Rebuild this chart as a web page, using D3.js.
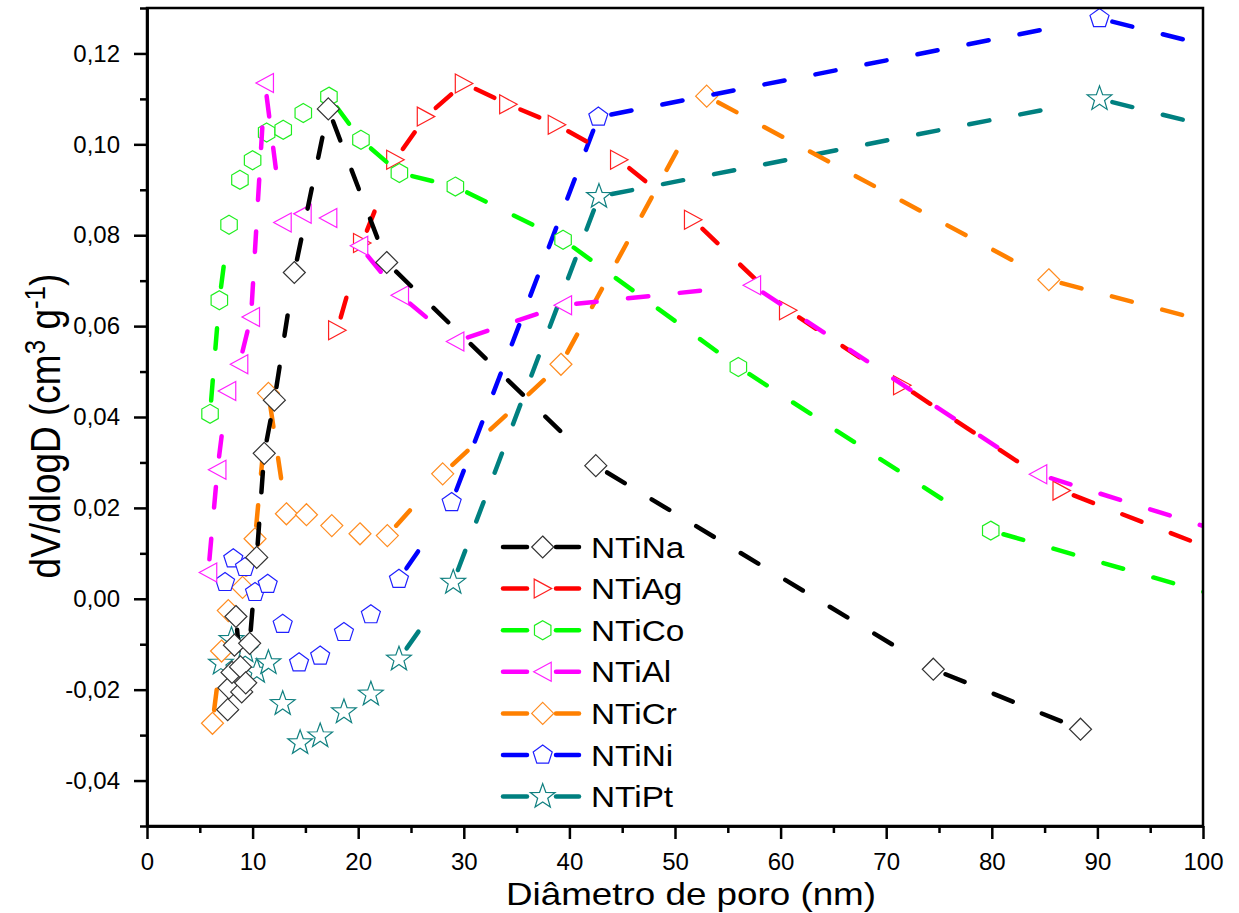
<!DOCTYPE html>
<html>
<head>
<meta charset="utf-8">
<script src="https://cdn.jsdelivr.net/npm/d3@7"></script>
<style>
  body { margin: 0; background: #fff; }
  text { font-family: Arial, "Liberation Sans", sans-serif; }
</style>
</head>
<body>
<div id="chart"></div>
<script>
// data (x = pore diameter nm, y = dV/dlogD)
var seriesNames = ["NTiNa", "NTiAg", "NTiCo", "NTiAl", "NTiCr", "NTiNi", "NTiPt"];

var naX = [7.64, 7.76, 8.05, 8.28, 8.42, 8.85, 8.97, 9.35, 9.72, 10.39, 11.10, 12.06, 13.95, 17.17, 22.70, 42.50, 74.46, 88.40];
var naY = [-0.0244, -0.0196, -0.0162, -0.0102, -0.0039, -0.0150, -0.0205, -0.0185, -0.0098, 0.0091, 0.0320, 0.0437, 0.0718, 0.1078, 0.0740, 0.0293, -0.0155, -0.0287];

var agX = [18.0, 20.36, 23.5, 26.4, 30.0, 34.2, 38.8, 44.7, 51.7, 60.7, 71.5, 86.6, 105];
var agY = [0.0591, 0.0783, 0.0966, 0.1061, 0.1134, 0.1088, 0.1043, 0.0966, 0.0834, 0.0635, 0.0470, 0.0238, 0.0072];

var coX = [5.97, 6.85, 7.77, 8.80, 10.00, 11.33, 12.90, 14.80, 17.23, 20.26, 23.90, 29.20, 39.40, 56.00, 79.90, 105];
var coY = [0.0407, 0.0657, 0.0823, 0.0922, 0.0965, 0.1026, 0.1032, 0.1069, 0.1105, 0.1010, 0.0937, 0.0907, 0.0790, 0.0510, 0.0150, -0.0018];

var alX = [5.80, 6.67, 7.60, 8.74, 9.85, 11.17, 12.85, 14.74, 17.17, 20.10, 23.96, 29.20, 39.40, 57.30, 84.40, 105];
var alY = [0.0058, 0.0284, 0.0457, 0.0516, 0.0620, 0.1135, 0.0828, 0.0847, 0.0838, 0.0777, 0.0668, 0.0566, 0.0646, 0.0690, 0.0274, 0.0124];

var crX = [6.20, 7.06, 7.70, 9.05, 10.23, 11.50, 13.20, 15.10, 17.50, 20.17, 22.76, 28.00, 39.20, 53.00, 85.40, 105];
var crY = [-0.0274, -0.0115, -0.0026, 0.0025, 0.0132, 0.0452, 0.0187, 0.0185, 0.0161, 0.0143, 0.0139, 0.0275, 0.0516, 0.1106, 0.0702, 0.0582];

var niX = [7.39, 8.17, 9.28, 10.23, 11.43, 12.85, 14.40, 16.40, 18.65, 21.20, 23.86, 28.85, 42.74, 90.20, 105];
var niY = [0.0036, 0.0088, 0.0069, 0.0014, 0.0032, -0.0056, -0.0141, -0.0126, -0.0074, -0.0035, 0.0043, 0.0212, 0.1060, 0.1277, 0.1191];

var ptX = [7.00, 8.00, 9.30, 10.40, 11.50, 12.85, 14.50, 16.40, 18.65, 21.20, 23.86, 29.00, 42.80, 90.20, 105];
var ptY = [-0.0142, -0.0090, -0.0115, -0.0160, -0.0141, -0.0231, -0.0317, -0.0302, -0.0249, -0.0210, -0.0133, 0.0036, 0.0885, 0.1100, 0.1014];

var xMajor = [0, 10, 20, 30, 40, 50, 60, 70, 80, 90, 100];
var xMinor = [5, 15, 25, 35, 45, 55, 65, 75, 85, 95];
var yMajor = [-0.04, -0.02, 0.00, 0.02, 0.04, 0.06, 0.08, 0.10, 0.12];
var yMinor = [-0.05, -0.03, -0.01, 0.01, 0.03, 0.05, 0.07, 0.09, 0.11, 0.13];

var W = 1239, H = 913;
var pLeft = 147, pRight = 1203, pTop = 8, pBottom = 826;

var x = d3.scaleLinear().domain([0, 100]).range([pLeft, pRight]);
var y = d3.scaleLinear().domain([-0.05, 0.13]).range([pBottom, pTop]);

// marker shapes
function polyPath(n, r, rot) {
  var pts = [];
  for (var k = 0; k < n; k++) {
    var a = rot + k * 2 * Math.PI / n;
    pts.push([r * Math.cos(a), r * Math.sin(a)]);
  }
  return "M" + pts.map(function(p){ return p[0].toFixed(2) + "," + p[1].toFixed(2); }).join("L") + "Z";
}
function starPath(ro, ri) {
  var pts = [];
  for (var k = 0; k < 10; k++) {
    var a = -Math.PI / 2 + k * Math.PI / 5;
    var r = k % 2 ? ri : ro;
    pts.push([r * Math.cos(a), r * Math.sin(a)]);
  }
  return "M" + pts.map(function(p){ return p[0].toFixed(2) + "," + p[1].toFixed(2); }).join("L") + "Z";
}
var shapes = {
  diamond: "M0,-11L11,0L0,11L-11,0Z",
  triRight: "M-8.5,-9.5L9,0L-8.5,9.5Z",
  triLeft: "M8.5,-9.5L-9,0L8.5,9.5Z",
  hexagon: polyPath(6, 9.5, -Math.PI / 2),
  pentagon: polyPath(5, 10, -Math.PI / 2),
  star: starPath(13, 5.3)
};

var series = [
  {name: seriesNames[0], xs: naX, ys: naY, color: "#000000", mark: "#333333", shape: "diamond"},
  {name: seriesNames[1], xs: agX, ys: agY, color: "#ff0000", mark: "#ff2020", shape: "triRight"},
  {name: seriesNames[2], xs: coX, ys: coY, color: "#00ff00", mark: "#20ee20", shape: "hexagon"},
  {name: seriesNames[3], xs: alX, ys: alY, color: "#ff00ff", mark: "#ff20ff", shape: "triLeft"},
  {name: seriesNames[4], xs: crX, ys: crY, color: "#ff8000", mark: "#ff8c20", shape: "diamond"},
  {name: seriesNames[5], xs: niX, ys: niY, color: "#0000ff", mark: "#2020ff", shape: "pentagon"},
  {name: seriesNames[6], xs: ptX, ys: ptY, color: "#008080", mark: "#108080", shape: "star"}
];
// paint order seen in the picture (later on top)
var drawOrder = [6, 4, 5, 1, 2, 3, 0];

var svg = d3.select("#chart").append("svg")
  .attr("width", W).attr("height", H);

svg.append("defs").append("clipPath").attr("id", "clip")
  .append("rect")
  .attr("x", pLeft).attr("y", pTop)
  .attr("width", pRight - pLeft).attr("height", pBottom - pTop);

var plot = svg.append("g").attr("clip-path", "url(#clip)");

// dashed segment between two markers, gap around each marker, only whole dashes
var GAP = 11, DASH = 25, PERIOD = 52, LW = 4.5;
function segmentPath(p1, p2) {
  var dx = p2[0] - p1[0], dy = p2[1] - p1[1];
  var L = Math.sqrt(dx * dx + dy * dy);
  if (L - 2 * GAP < DASH) return null;
  var n = Math.floor((L - 2 * GAP - DASH) / PERIOD) + 1;
  var ux = dx / L, uy = dy / L;
  var s = GAP + LW / 2, e = GAP + (n - 1) * PERIOD + DASH - LW / 2;
  return "M" + (p1[0] + ux * s) + "," + (p1[1] + uy * s) + "L" + (p1[0] + ux * e) + "," + (p1[1] + uy * e);
}

drawOrder.forEach(function(si) {
  var s = series[si];
  var pts = s.xs.map(function(v, i) { return [x(v), y(s.ys[i])]; });
  var g = plot.append("g");
  var segs = [];
  for (var i = 0; i < pts.length - 1; i++) {
    var d = segmentPath(pts[i], pts[i + 1]);
    if (d) segs.push(d);
  }
  g.selectAll("path.seg")
    .data(segs)
    .enter().append("path")
      .attr("class", "seg")
      .attr("d", function(d) { return d; })
      .style("fill", "none")
      .style("stroke", s.color)
      .style("stroke-width", LW)
      .style("stroke-linecap", "round")
      .style("stroke-dasharray", (DASH - LW) + "," + (PERIOD - DASH + LW));
  g.selectAll("path.mk")
    .data(pts)
    .enter().append("path")
      .attr("class", "mk")
      .attr("d", shapes[s.shape])
      .attr("transform", function(p) { return "translate(" + p[0] + "," + p[1] + ")"; })
      .style("fill", "#fff")
      .style("stroke", s.mark)
      .style("stroke-width", 1.2);
});

// axes
function fmtY(v) {
  var t = Math.abs(v).toFixed(2).replace(".", ",");
  return (v < -1e-9 ? "-" : "") + t;
}
var yAxis = svg.append("g")
  .attr("transform", "translate(" + pLeft + ",0)")
  .call(d3.axisLeft(y).tickValues(yMajor).tickSize(13).tickSizeOuter(0).tickPadding(14).tickFormat(fmtY));
var yAxisMinor = svg.append("g")
  .attr("transform", "translate(" + pLeft + ",0)")
  .call(d3.axisLeft(y).tickValues(yMinor).tickSize(7).tickSizeOuter(0).tickFormat(""));
var xAxis = svg.append("g")
  .attr("transform", "translate(0," + pBottom + ")")
  .call(d3.axisBottom(x).tickValues(xMajor).tickSize(13).tickSizeOuter(0).tickPadding(14).tickFormat(d3.format("d")));
var xAxisMinor = svg.append("g")
  .attr("transform", "translate(0," + pBottom + ")")
  .call(d3.axisBottom(x).tickValues(xMinor).tickSize(7).tickSizeOuter(0).tickFormat(""));

[yAxis, yAxisMinor, xAxis, xAxisMinor].forEach(function(a) {
  a.selectAll("path.domain").style("stroke", "#000").style("stroke-width", 2.5);
  a.selectAll(".tick line").style("stroke", "#000").style("stroke-width", 2.5);
  a.selectAll(".tick text")
    .style("font-family", "Arial, 'Liberation Sans', sans-serif")
    .style("font-size", "24px")
    .style("fill", "#000");
});

// frame
svg.append("rect")
  .attr("x", pLeft).attr("y", pTop)
  .attr("width", pRight - pLeft).attr("height", pBottom - pTop)
  .style("fill", "none").style("stroke", "#000").style("stroke-width", 2.5);

// axis titles
svg.append("text")
  .attr("transform", "translate(506,905) scale(1.15,1)")
  .style("font-size", "32px")
  .text("Diâmetro de poro (nm)");

var yt = svg.append("text")
  .attr("transform", "translate(60,426) rotate(-90) scale(1,1.15)")
  .attr("text-anchor", "middle")
  .style("font-size", "37px");
yt.append("tspan").text("dV/dlogD (cm");
yt.append("tspan").attr("dy", -13).style("font-size", "26px").text("3");
yt.append("tspan").attr("dy", 13).text(" g");
yt.append("tspan").attr("dy", -13).style("font-size", "26px").text("-1");
yt.append("tspan").attr("dy", 13).text(")");

// legend
var legend = svg.append("g");
series.forEach(function(s, i) {
  var ry = 547 + i * 41.6;
  var row = legend.append("g");
  row.append("line").attr("x1", 503).attr("x2", 527).attr("y1", ry).attr("y2", ry)
    .style("stroke", s.color).style("stroke-width", LW).style("stroke-linecap", "round");
  row.append("line").attr("x1", 556).attr("x2", 579).attr("y1", ry).attr("y2", ry)
    .style("stroke", s.color).style("stroke-width", LW).style("stroke-linecap", "round");
  row.append("path").attr("d", shapes[s.shape])
    .attr("transform", "translate(542.7," + ry + ")")
    .style("fill", "#fff").style("stroke", s.mark).style("stroke-width", 1.2);
  row.append("text")
    .attr("transform", "translate(591," + (ry + 10.5) + ") scale(1.15,1)")
    .style("font-size", "29px")
    .text(s.name);
});
</script>
</body>
</html>
